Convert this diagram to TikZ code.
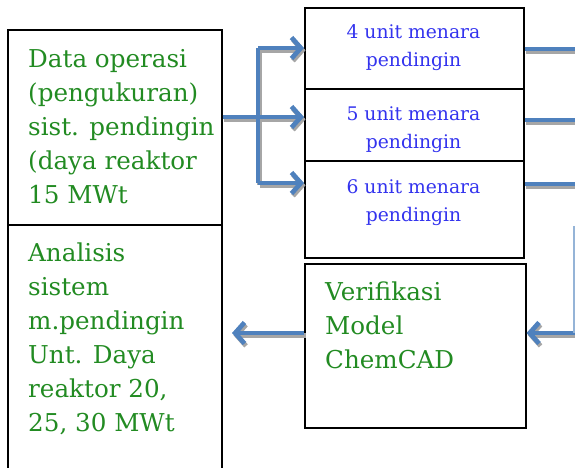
\documentclass[tikz,border=0pt]{standalone}
\usepackage{fontspec}
\setmainfont{DejaVu Serif}
\usetikzlibrary{arrows.meta}
\definecolor{flowblue}{HTML}{4F81BD}
\definecolor{txtgreen}{HTML}{228B22}
\definecolor{txtblue}{HTML}{3333EE}
\tikzset{
  box/.style={draw, line width=1.3pt, inner sep=0pt, anchor=north west},
  greentext/.style={anchor=north west, inner sep=0pt, align=left, text=txtgreen,
    font=\fontsize{21}{29}\selectfont},
  bluetext/.style={anchor=north, inner sep=0pt, align=center, text=txtblue,
    font=\fontsize{16}{24}\selectfont},
  flow/.style={draw=flowblue, line width=4pt},
  flowarrow/.style={flow, -{Straight Barb[length=8pt,width=18pt]}}
}
% all blue connectors, drawn twice (shadow first)
\newcommand{\flowlines}{%
    \draw[flow] (data.east |- jm) -- (jm);
    \draw[flow] (jt) -- (jb);
    \draw[flowarrow] (jt) -- (jt -| u4.west);
    \draw[flowarrow] (jm) -- (jm -| u5.west);
    \draw[flowarrow] (jb) -- (jb -| u6.west);
    \draw[flow] (r4 -| u4.east) -- (r4);
    \draw[flow] (r5 -| u5.east) -- (r5);
    \draw[flow] (r6 -| u6.east) -- (r6);
    \draw[flowarrow] ([xshift=2pt]rb) -- (rb -| verif.east);
    \draw[flowarrow] (verif.west |- lt) -- (lt);
}
\begin{document}
\begin{tikzpicture}[x=0.03cm, y=-0.03cm]
    \useasboundingbox (0,0) rectangle (575,468);
    \clip (0,0) rectangle (575,468);
    % boxes
    \node[box, minimum width=6.42cm, minimum height=5.85cm] (data) at (7,29) {};
    \node[box, minimum width=6.42cm, minimum height=7.8cm] (analisis) at (7,224) {};
    \node[box, minimum width=6.57cm, minimum height=2.43cm] (u4) at (304,7) {};
    \node[box, minimum width=6.57cm, minimum height=2.16cm] (u5) at (304,88) {};
    \node[box, minimum width=6.57cm, minimum height=2.91cm] (u6) at (304,160) {};
    \node[box, minimum width=6.63cm, minimum height=4.92cm] (verif) at (304,263) {};
    % texts
    \node[greentext] (datatxt) at (28,49) {Data operasi\\(pengukuran)\\sist. pendingin\\(daya reaktor\\15 MWt};
    \node[greentext] (analisistxt) at (28,243) {Analisis\\sistem\\m.pendingin\\Unt. Daya\\reaktor 20,\\25, 30 MWt};
    \node[greentext] (veriftxt) at (325,282) {Verifikasi\\Model\\ChemCAD};
    \node[bluetext] (u4txt) at (413.5,24) {4 unit menara\\pendingin};
    \node[bluetext] (u5txt) at (413.5,106) {5 unit menara\\pendingin};
    \node[bluetext] (u6txt) at (413.5,179) {6 unit menara\\pendingin};
    % connectors
    \coordinate (jt) at (258,48);
    \coordinate (jm) at (258,117);
    \coordinate (jb) at (258,183);
    \coordinate (r4) at (580,49);
    \coordinate (r5) at (580,120);
    \coordinate (r6) at (580,184);
    \coordinate (rt) at (574,226);
    \coordinate (rb) at (574,333);
    \coordinate (lt) at (232,333);
    \begin{scope}[transform canvas={shift={(1.3pt,-2pt)}}, flow/.append style={draw=black!35}]
        \flowlines
    \end{scope}
    \flowlines
    \draw[flowblue!60, line width=1pt] (rt) -- (rb);
\end{tikzpicture}
\end{document}
